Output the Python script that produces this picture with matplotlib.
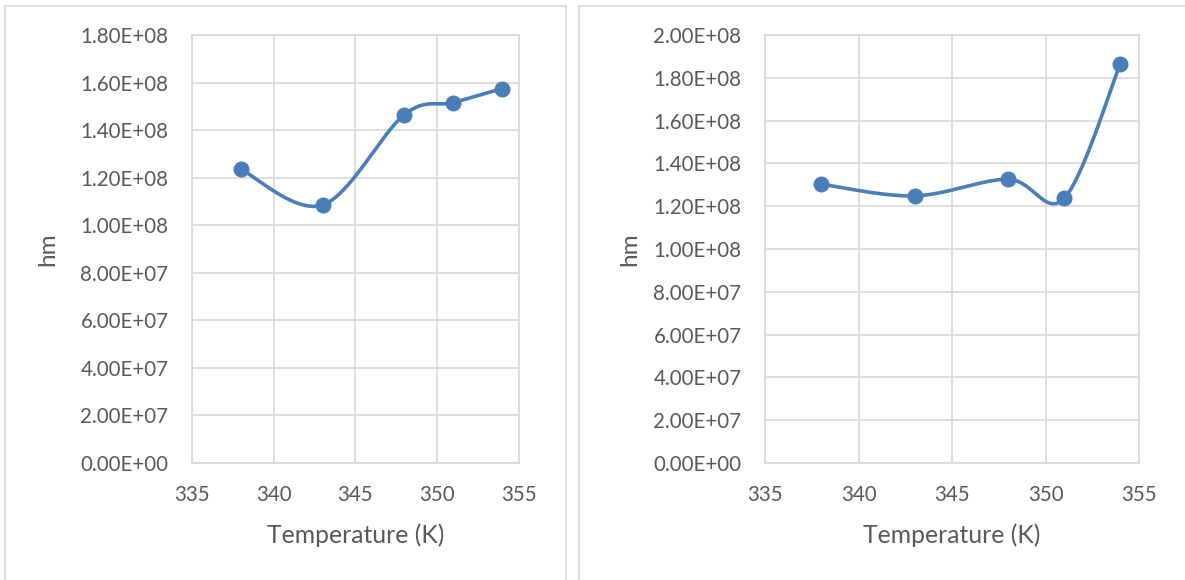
import numpy as np
import matplotlib
matplotlib.use("Agg")
import matplotlib.pyplot as plt
from matplotlib.patches import Rectangle

# Data
temperature = [338, 343, 348, 351, 354]
hm_left = [1.235e8, 1.085e8, 1.465e8, 1.516e8, 1.575e8]
hm_right = [1.303e8, 1.248e8, 1.326e8, 1.237e8, 1.865e8]

x_ticks = [335, 340, 345, 350, 355]
y_ticks_left = [0, 2e7, 4e7, 6e7, 8e7, 1e8, 1.2e8, 1.4e8, 1.6e8, 1.8e8]
y_ticks_right = [0, 2e7, 4e7, 6e7, 8e7, 1e8, 1.2e8, 1.4e8, 1.6e8, 1.8e8, 2e8]

LINE = "#4A7EBB"
TEXT = "#595959"
GRID = "#D9D9D9"
FONT = ["Lato", "DejaVu Sans"]

plt.rcParams["font.family"] = FONT


def smooth(xs, ys, n=60):
    """Bezier smoothing through every point (Catmull-Rom style control points)."""
    p = np.column_stack([xs, ys]).astype(float)
    ext = np.vstack([p[0], p, p[-1]])
    out = []
    t = np.linspace(0, 1, n)[:, None]
    for i in range(len(p) - 1):
        p0, p1 = ext[i + 1], ext[i + 2]
        c1 = p0 + (ext[i + 2] - ext[i]) / 6.0
        c2 = p1 - (ext[i + 3] - ext[i + 1]) / 6.0
        seg = ((1 - t) ** 3) * p0 + 3 * ((1 - t) ** 2) * t * c1 \
            + 3 * (1 - t) * t ** 2 * c2 + t ** 3 * p1
        out.append(seg if i == 0 else seg[1:])
    seg = np.vstack(out)
    return seg[:, 0], seg[:, 1]


def sci(v, _pos=None):
    mant, exp = f"{v:.2E}".split("E")
    return f"{mant}E{exp[0]}{int(exp[1:]):02d}"


W, H = 1185, 580
fig = plt.figure(figsize=(W / 100, H / 100), dpi=100)
fig.patch.set_facecolor("white")

# Chart frames
for x0, x1 in [(5, 566), (579, 1200)]:
    fig.patches.append(Rectangle((x0 / W, -0.1), (x1 - x0) / W, (H - 6) / H + 0.1,
                                 transform=fig.transFigure, fill=False,
                                 edgecolor=GRID, linewidth=1.2))

panels = [
    ((192, 518.6), hm_left, y_ticks_left, 48),
    ((765, 1139), hm_right, y_ticks_right, 630),
]

for (px0, px1), hm, yt, ylab_x in panels:
    top, bottom = 35, 463
    ax = fig.add_axes([px0 / W, (H - bottom) / H, (px1 - px0) / W, (bottom - top) / H])
    ax.set_xlim(x_ticks[0], x_ticks[-1])
    ax.set_ylim(yt[0], yt[-1])
    ax.set_xticks(x_ticks)
    ax.set_yticks(yt)
    ax.yaxis.set_major_formatter(plt.FuncFormatter(sci))
    ax.grid(True, color=GRID, linewidth=1.2)
    ax.set_axisbelow(True)
    for s in ax.spines.values():
        s.set_color(GRID)
        s.set_linewidth(1.2)
    ax.tick_params(length=0, colors=TEXT, labelsize=14.8)
    ax.tick_params(axis="y", pad=17)
    ax.tick_params(axis="x", pad=16)

    sx, sy = smooth(temperature, hm)
    ax.plot(sx, sy, color=LINE, linewidth=2.6, solid_capstyle="round", zorder=3)
    ax.plot(temperature, hm, "o", color=LINE, markersize=10.5, zorder=4)

    ax.set_xlabel("Temperature (K)", fontsize=17.8, color=TEXT)
    ax.xaxis.set_label_coords(0.5, -(535 - bottom) / (bottom - top))
    ax.xaxis.label.set_va("center")
    ax.set_ylabel("hm", fontsize=17.5, color=TEXT)
    ax.yaxis.set_label_coords((ylab_x - px0) / (px1 - px0), 0.5)
    ax.yaxis.label.set_va("center")

fig.savefig("out.png", dpi=100, facecolor="white")
